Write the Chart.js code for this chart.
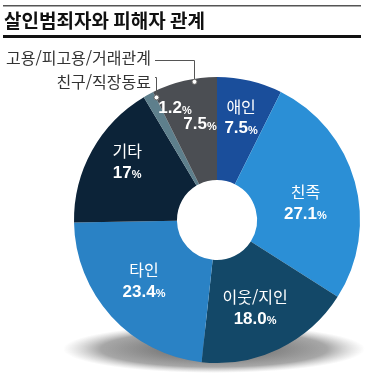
<!DOCTYPE html>
<html lang="ko">
<head>
  <meta charset="UTF-8" />
  <title>살인범죄자와 피해자 관계</title>
  <script src="https://cdn.jsdelivr.net/npm/chart.js"></script>
  <style>
    html, body { margin: 0; padding: 0; background: #fff; }
    body { width: 381px; height: 386px; overflow: hidden; }
    canvas { display: block; }
  </style>
</head>
<body>
  <canvas id="relChart" width="381" height="386"></canvas>

  <script>
    // data (clockwise from 12 o'clock)
    const categories = ['애인', '친족', '이웃/지인', '타인', '기타', '친구/직장동료', '고용/피고용/거래관계'];
    const shares = [7.5, 27.1, 18.0, 23.4, 17, 1.2, 7.5];
    const valueLabels = ['7.5', '27.1', '18.0', '23.4', '17', '1.2', '7.5'];
    const sliceColors = ['#1a4e9b', '#2b8fd6', '#134868', '#2a82c5', '#0c2338', '#5e7f8c', '#4b4e53'];
    // where the in-slice label sits: distance from centre, and angular nudge (rad, + = clockwise)
    const labelRadius = [105, 90, 96, 95, 107, 119, 97];
    const labelAngleShift = [0, 0.08, 0.04, 0.045, 0.066, 0.14, 0.055];
    const outsideNames = [false, false, false, false, false, true, true];

    const FONT = '"Noto Sans CJK KR", "Noto Sans", sans-serif';
    const NUMFONT = '"Liberation Sans", Arial, sans-serif';

    // soft shadow under the ring
    const ringShadow = {
      id: 'ringShadow',
      beforeDraw(chart) {
        const ctx = chart.ctx;
        const area = chart.chartArea;
        const cx = (area.left + area.right) / 2;
        const r = Math.min(area.right - area.left, area.bottom - area.top) / 2;
        const cy = (area.top + area.bottom) / 2;
        const grad = ctx.createRadialGradient(0, 0, 0, 0, 0, 1);
        grad.addColorStop(0, 'rgba(30,30,30,0.75)');
        grad.addColorStop(0.75, 'rgba(60,60,60,0.45)');
        grad.addColorStop(1, 'rgba(120,120,120,0)');
        ctx.save();
        ctx.translate(cx - 3, cy + r - 14);
        ctx.scale(r + 8, 24);
        ctx.fillStyle = grad;
        ctx.beginPath();
        ctx.arc(0, 0, 1, 0, Math.PI * 2);
        ctx.fill();
        ctx.restore();
      }
    };

    // title, rules and callouts
    const decor = {
      id: 'decor',
      afterDraw(chart) {
        const ctx = chart.ctx;
        const meta = chart.getDatasetMeta(0);
        ctx.save();

        // top rules + title
        ctx.fillStyle = '#555';
        ctx.fillRect(3, 5, 358, 1.5);
        ctx.fillStyle = '#111';
        ctx.fillRect(3, 35, 358, 3);
        ctx.font = 'bold 19px ' + FONT;
        ctx.textBaseline = 'alphabetic';
        ctx.textAlign = 'left';
        ctx.fillText('살인범죄자와 피해자 관계', 4, 28);

        // labels inside slices
        meta.data.forEach((a, i) => {
          const mid = (a.startAngle + a.endAngle) / 2 + labelAngleShift[i];
          const x = a.x + Math.cos(mid) * labelRadius[i];
          const y = a.y + Math.sin(mid) * labelRadius[i];
          ctx.fillStyle = '#fff';
          ctx.textBaseline = 'middle';
          let numY = y;
          if (!outsideNames[i]) {
            ctx.font = '16px ' + FONT;
            ctx.textAlign = 'center';
            ctx.fillText(categories[i], x, y - 11);
            numY = y + 11;
          }
          ctx.font = 'bold 17px ' + NUMFONT;
          const nw = ctx.measureText(valueLabels[i]).width;
          ctx.font = 'bold 11px ' + NUMFONT;
          const pw = ctx.measureText('%').width;
          const left = x - (nw + pw) / 2;
          ctx.textAlign = 'left';
          ctx.font = 'bold 17px ' + NUMFONT;
          ctx.fillText(valueLabels[i], left, numY);
          ctx.font = 'bold 11px ' + NUMFONT;
          ctx.fillText('%', left + nw, numY + 2);
        });

        // callouts for the two thin slices
        const a5 = meta.data[5], a6 = meta.data[6];
        const outer = a5.outerRadius;
        const ang6 = (a6.startAngle + a6.endAngle) / 2 + 0.07;
        const d6x = Math.round(a6.x + Math.cos(ang6) * (outer - 3)) + 0.5;
        const d6y = a6.y + Math.sin(ang6) * (outer - 3);
        const ang5 = a5.endAngle;
        const d5x = Math.round(a5.x + Math.cos(ang5) * (outer - 6)) + 0.5;
        const d5y = a5.y + Math.sin(ang5) * (outer - 6);

        ctx.strokeStyle = '#555';
        ctx.lineWidth = 1;
        ctx.beginPath();
        ctx.moveTo(155, 60.5); ctx.lineTo(d6x, 60.5); ctx.lineTo(d6x, d6y);
        ctx.moveTo(155, 77.5); ctx.lineTo(d5x, 77.5); ctx.lineTo(d5x, d5y);
        ctx.stroke();

        ctx.fillStyle = '#fff';
        ctx.strokeStyle = '#666';
        [[d6x, d6y], [d5x, d5y]].forEach(p => {
          ctx.beginPath();
          ctx.arc(p[0], p[1], 2.5, 0, Math.PI * 2);
          ctx.fill();
          ctx.stroke();
        });

        ctx.fillStyle = '#333';
        ctx.font = '16px ' + FONT;
        ctx.textAlign = 'right';
        ctx.textBaseline = 'middle';
        ctx.fillText(categories[6], 151, 58);
        ctx.fillText(categories[5], 151, 82);
        ctx.restore();
      }
    };

    new Chart(document.getElementById('relChart'), {
      type: 'doughnut',
      data: {
        labels: categories,
        datasets: [{
          data: shares,
          backgroundColor: sliceColors,
          borderWidth: 0
        }]
      },
      options: {
        responsive: false,
        animation: false,
        cutout: '28%',
        layout: { padding: { left: 74, right: 21, top: 77, bottom: 23 } },
        plugins: {
          legend: { display: false },
          tooltip: { enabled: false }
        }
      },
      plugins: [ringShadow, decor]
    });
  </script>
</body>
</html>
